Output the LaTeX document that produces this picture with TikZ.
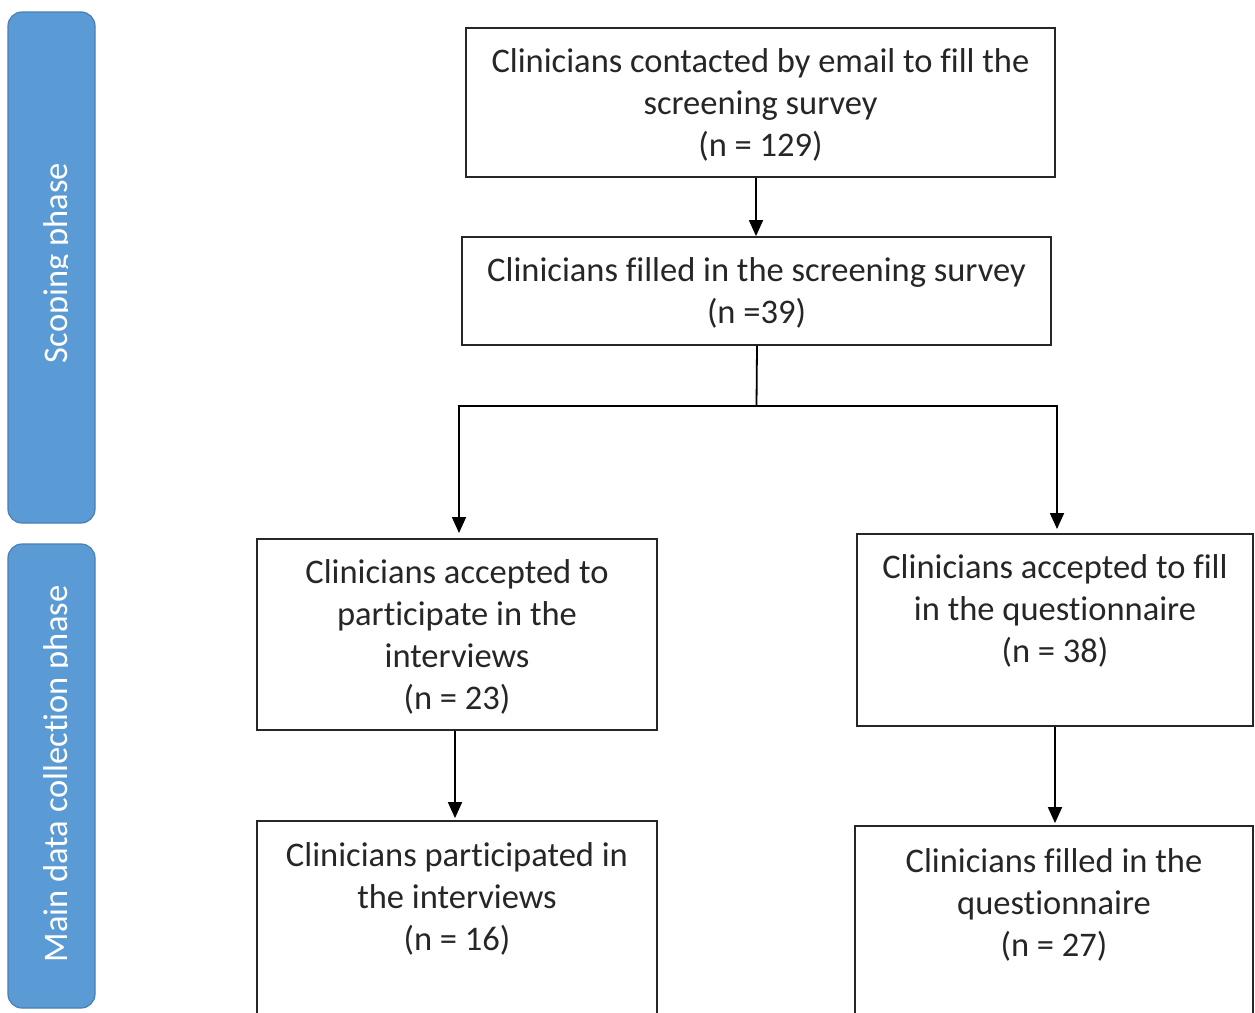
\documentclass[tikz,border=0pt]{standalone}
\usepackage{fontspec}
\setmainfont{Carlito}[Ligatures=CommonOff]
\usetikzlibrary{arrows.meta}
\definecolor{barfill}{HTML}{5B9BD5}
\definecolor{bardraw}{HTML}{4A7FB5}
\definecolor{ink}{HTML}{262626}
\begin{document}
\begin{tikzpicture}[x=1pt,y=-1pt,
  box/.style={draw=black!85, line width=1.8pt, rectangle, inner sep=0pt,
    align=center, text=ink, text depth=0pt, font=\fontsize{34.5pt}{42pt}\selectfont},
  bar/.style={draw=bardraw, fill=barfill, line width=1.2pt, rounded corners=14pt},
  bartext/.style={rotate=90, anchor=base, text=white, inner sep=0pt,
    font=\fontsize{34.5pt}{42pt}\selectfont},
  conn/.style={draw=black, line width=1.8pt},
  arr/.style={conn, -{Triangle[width=14pt,length=16pt]}}]
\clip (0,0) rectangle (1255,1012);
\fill[white] (0,0) rectangle (1255,1012);

% side bars
\draw[bar] (8,12) rectangle (95,523);
\draw[bar] (8,544) rectangle (95,1008);
\begin{scope}
  \clip (0,0) rectangle (67,1012);
  \node[bartext] (scp) at (67,263) {Scoping phase};
  \node[bartext] (mdc) at (67,774) {Main data collection phase};
\end{scope}

% boxes
\node[box, minimum width=589pt, minimum height=149pt] (b1) at (760.5,102.5)
  {Clinicians contacted by email to fill the\\screening survey\\(n = 129)};
\node[box, minimum width=589pt, minimum height=108pt] (b2) at (756.5,291)
  {Clinicians filled in the screening survey\\(n =39)};
\node[box, minimum width=400pt, minimum height=191pt] (b3) at (457,634.5)
  {Clinicians accepted to\\participate in the\\interviews\\(n = 23)};
\node[box, minimum width=396pt, minimum height=192pt] (b4) at (1055,630)
  {Clinicians accepted to fill\\in the questionnaire\\(n = 38)\\\strut};
\node[box, minimum width=400pt, minimum height=194pt] (b5) at (457,918)
  {Clinicians participated in\\the interviews\\(n = 16)\\\strut};
\node[box, minimum width=398pt, minimum height=196pt] (b6) at (1054,924)
  {Clinicians filled in the\\questionnaire\\(n = 27)\\\strut};

% connectors
\coordinate (sp) at (b2.south |- 0,406);
\coordinate (tl) at (459,533);
\coordinate (tr) at (1057,529);
\draw[arr] (b1.south -| 756,0) -- (b2.north -| 756,0);
\draw[conn] (b2.south -| 757,0) -- (sp);
\draw[arr] (sp) -| (tl);
\draw[arr] (sp) -| (tr);
\draw[arr, shorten >=2pt] (b3.south -| 455,0) -- (b5.north -| 455,0);
\draw[arr, shorten >=2pt] (b4.south) -- (b6.north -| b4.south);
\end{tikzpicture}
\end{document}
